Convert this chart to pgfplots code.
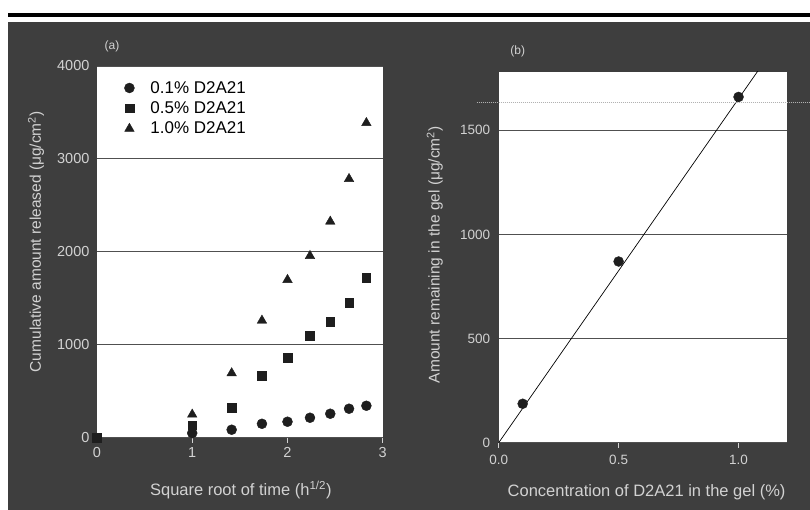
\documentclass[border=0pt]{standalone}
\usepackage{pgfplots}
\pgfplotsset{compat=1.18}
\usepackage{fontspec}
\setmainfont{Liberation Sans}
\definecolor{bg}{HTML}{3E3E3E}
\definecolor{lab}{HTML}{D2D2D2}
\definecolor{mk}{HTML}{1E1E1E}
\definecolor{grd}{HTML}{505050}

\pgfplotsset{
  panel/.style={
    anchor=south west, scale only axis,
    axis background/.style={fill=white},
    axis line style={draw=none},
    ymajorgrids, grid style={grd, line width=0.8pt},
    xtick pos=bottom, tick align=outside,
    major tick length=5pt,
    xtick style={lab, line width=1.2pt},
    ytick style={draw=none},
    tick label style={font=\fontsize{14.5}{15}\selectfont, text=lab},
    /pgf/number format/assume math mode=true,
    /pgf/number format/set thousands separator={},
  },
}

\begin{document}
\begin{tikzpicture}
\fill[white] (0pt,0pt) rectangle (810pt,510pt);
\fill[bg] (8pt,0pt) rectangle (810pt,488pt);
\fill[black] (8pt,493pt) rectangle (810pt,497pt);

% ---------- panel (a) ----------
\begin{axis}[panel, at={(97pt,72pt)}, width=286pt, height=372pt,
  xmin=0, xmax=3, ymin=0, ymax=4000,
  xtick={0,1,2,3}, ytick={0,1000,2000,3000,4000},
  clip=false,
  xticklabel style={yshift=-1pt},
  yticklabel style={xshift=1pt},
  legend style={at={(0.085,0.97)}, anchor=north west, draw=none, fill=none,
    font=\fontsize{17}{18}\selectfont, row sep=3pt, column sep=14pt, text=black},
  legend cell align=left,
]
\addplot[only marks, mark=*, mark size=5pt, mark options={fill=mk, draw=mk}]
  coordinates {(1,50) (1.414,86) (1.732,150) (2,172) (2.236,215) (2.449,258) (2.646,312) (2.828,344)};
\addlegendentry{0.1\% D2A21}
\addplot[only marks, mark=square*, mark size=4.3pt, mark options={fill=mk, draw=mk}]
  coordinates {(0,0) (1,135) (1.414,323) (1.732,667) (2,860) (2.236,1097) (2.449,1247) (2.646,1452) (2.828,1720)};
\addlegendentry{0.5\% D2A21}
\addplot[only marks, mark=triangle*, mark size=5.5pt, mark options={fill=mk, draw=mk}]
  coordinates {(1,250) (1.414,695) (1.732,1261) (2,1699) (2.236,1957) (2.449,2326) (2.646,2785) (2.828,3387)};
\addlegendentry{1.0\% D2A21}
\end{axis}

% ---------- panel (b) ----------
\begin{axis}[panel, at={(499pt,67pt)}, width=288pt, height=371pt,
  xmin=0, xmax=1.2, ymin=0, ymax=1780,
  xtick={0,0.5,1}, xticklabels={0.0,0.5,1.0},
  ytick={0,500,1000,1500},
  tick label style={font=\fontsize{13.5}{14}\selectfont},
  xticklabel style={yshift=-4pt},
]
\addplot[black, line width=0.7pt, no marks] coordinates {(0,0) (1.2,1982)};
\addplot[only marks, mark=*, mark size=5pt, mark options={fill=mk, draw=mk}]
  coordinates {(0.1,187) (0.5,870) (1.0,1660)};
\end{axis}

% scan artifact line
\draw[gray!60, densely dotted, line width=1pt] (477pt,407pt) -- (810pt,407pt);

% labels
\node[text=lab, font=\fontsize{12}{13}\selectfont] at (112pt,464pt) {(a)};
\node[text=lab, font=\fontsize{12}{13}\selectfont] at (518pt,459pt) {(b)};
\node[text=lab, font=\fontsize{16.5}{17}\selectfont] at (241pt,20pt) {Square root of time (h\textsuperscript{1/2})};
\node[text=lab, font=\fontsize{16.5}{17}\selectfont] at (647pt,17pt) {Concentration of D2A21 in the gel (\%)};
\node[text=lab, rotate=90, font=\fontsize{15.5}{16}\selectfont] at (36pt,268pt) {Cumulative amount released (μg/cm\textsuperscript{2})};
\node[text=lab, rotate=90, font=\fontsize{15.5}{16}\selectfont] at (435pt,255pt) {Amount remaining in the gel (μg/cm\textsuperscript{2})};
\end{tikzpicture}
\end{document}
